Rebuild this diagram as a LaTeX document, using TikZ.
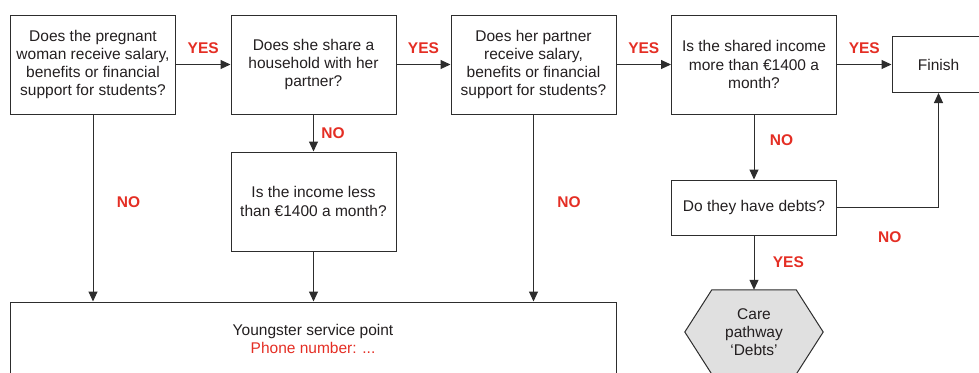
\documentclass[tikz,border=0pt]{standalone}
\usepackage{fontspec}
\setmainfont{Liberation Sans}
\usetikzlibrary{arrows.meta, backgrounds}
\definecolor{flowred}{RGB}{228, 46, 36}
\definecolor{flowgray}{RGB}{224, 224, 224}
\definecolor{flowline}{RGB}{45, 45, 45}
\definecolor{flowtext}{RGB}{35, 31, 32}

\begin{document}
\begin{tikzpicture}[x=1pt, y=-1pt,
        every node/.style={font=\fontsize{15.5}{18.3}\selectfont, text=flowtext},
        qbox/.style={draw=flowline, line width=1pt, minimum width=165pt, minimum height=99pt, align=center, inner sep=0pt},
        flow/.style={draw=flowline, line width=1pt, -{Triangle[length=10pt, width=9pt]}},
        answer/.style={font=\bfseries\fontsize{15.5}{18.3}\selectfont, text=flowred}]
    \useasboundingbox (0,0) rectangle (979,372);
    \clip (0,0) rectangle (979,372);

    \node[qbox] (qpay) at (93,64.5) {Does the pregnant\\woman receive salary,\\benefits or financial\\support for students?};
    \node[qbox] (qhouse) at (313.5,64.5) {Does she share a\\household with her\\partner?};
    \node[qbox] (qpartner) at (533.5,64.5) {Does her partner\\receive salary,\\benefits or financial\\support for students?};
    \node[qbox] (qshared) at (754,64.5) {Is the shared income\\more than €1400 a\\month?};
    \node[qbox, minimum width=93pt, minimum height=56pt] (finish) at (938.5,64.5) {Finish};
    \node[qbox] (qincome) at (313.5,201.5) {Is the income less\\than €1400 a month?};
    \node[qbox, minimum height=55pt] (qdebts) at (754,207.5) {Do they have debts?};
    \node[qbox, minimum width=606pt, minimum height=74pt] (service) at (313,339) {Youngster service point\\\textcolor{flowred}{Phone number: ...}};
    \node[minimum width=138pt, minimum height=84pt, align=center, inner sep=0pt] (care) at (754,332) {Care\\pathway\\‘Debts’};
    \begin{scope}[on background layer]
        \filldraw[fill=flowgray, draw=flowline, line width=1pt] ([xshift=27pt]care.north west) -- ([xshift=-27pt]care.north east) -- (care.east) -- ([xshift=-27pt]care.south east) -- ([xshift=27pt]care.south west) -- (care.west) -- cycle;
    \end{scope}

    \draw[flow] (qpay) -- node[answer, above=7pt] (yespay) {YES} (qhouse);
    \draw[flow] (qhouse) -- node[answer, above=7pt] (yeshouse) {YES} (qpartner);
    \draw[flow] (qpartner) -- node[answer, above=7pt] (yespartner) {YES} (qshared);
    \draw[flow] (qshared) -- node[answer, above=7pt] (yesshared) {YES} (finish);
    \draw[flow] (qpay.south) -- node[answer, right=20pt, pos=0.47] (nopay) {NO} (qpay.south |- service.north);
    \draw[flow] (qhouse) -- node[answer, right=4pt] (nohouse) {NO} (qincome);
    \draw[flow] (qincome.south) -- (qincome.south |- service.north);
    \draw[flow] (qpartner.south) -- node[answer, right=20pt, pos=0.47] (nopartner) {NO} (qpartner.south |- service.north);
    \draw[flow] (qshared) -- node[answer, right=12pt, pos=0.4] (noshared) {NO} (qdebts);
    \draw[flow] (qdebts) -- node[answer, right=15pt] (yesdebts) {YES} (care.north);
    \draw[flow] (qdebts.east) -| node[answer, below=20pt, pos=0.26] (nodebts) {NO} (finish.south);
\end{tikzpicture}
\end{document}
